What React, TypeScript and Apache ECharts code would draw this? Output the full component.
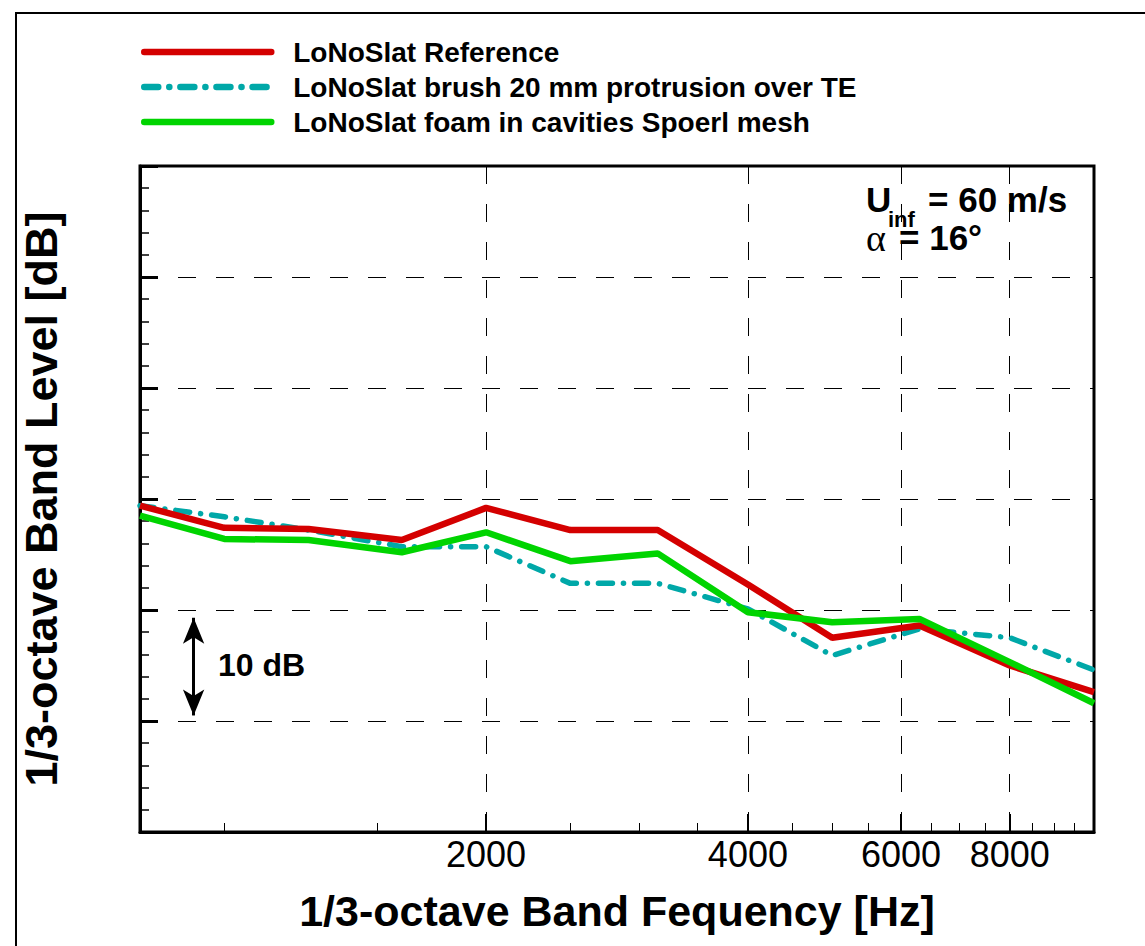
import React, { useEffect, useRef } from "react";
import * as echarts from "echarts";

const freqs = [800, 1000, 1250, 1600, 2000, 2500, 3150, 4000, 5000, 6300, 8000, 10000];
const reference = [29.4, 27.4, 27.3, 26.3, 29.2, 27.2, 27.2, 22.3, 17.5, 18.6, 15.0, 12.6];
const brush = [29.4, 28.4, 27.2, 25.7, 25.7, 22.4, 22.4, 20.1, 15.9, 18.3, 17.5, 14.6];
const foam = [28.5, 26.4, 26.3, 25.2, 27.0, 24.4, 25.1, 19.8, 18.9, 19.2, 15.3, 11.6];

const seriesNames = [
  "LoNoSlat Reference",
  "LoNoSlat brush 20 mm protrusion over TE",
  "LoNoSlat foam in cavities Spoerl mesh",
];
const majorFreqTicks = [2000, 4000, 6000, 8000];
const minorFreqTicks = [1000, 1500, 2500, 3000, 3500, 4500, 5000, 5500, 6500, 7000, 7500, 8500, 9000, 9500];
const arrowFreq = 922;
const arrowSpan = [19.3, 10.5];

export default function App() {
  const ref = useRef<HTMLDivElement>(null);
  useEffect(() => {
    const chart = echarts.init(ref.current!, null, { renderer: "svg" });
    const font = "Arial, 'Liberation Sans', Helvetica, sans-serif";
    const pairs = (ys: number[]) => freqs.map((f, i) => [f, ys[i]]);
    chart.setOption({
      animation: false,
      backgroundColor: "#ffffff",
      grid: { left: 140, right: 51, top: 166, bottom: 114, show: true, borderColor: "#000", borderWidth: 3, backgroundColor: "transparent" },
      legend: {
        orient: "vertical",
        left: 141,
        top: 38,
        padding: 0,
        itemWidth: 127,
        itemHeight: 1,
        itemGap: 7,
        data: seriesNames,
        lineStyle: { width: 6.5, cap: "round" },
        textStyle: { fontSize: 28, fontWeight: "bold", color: "#000", fontFamily: font, lineHeight: 28, padding: [0, 0, 0, 17] },
      },
      xAxis: [
        {
          type: "log",
          min: 800,
          max: 10000,
          position: "bottom",
          axisLine: { lineStyle: { color: "#000", width: 3 } },
          axisTick: { inside: true, length: 18, customValues: majorFreqTicks, lineStyle: { color: "#000", width: 2 } },
          axisLabel: { customValues: majorFreqTicks, fontSize: 36, color: "#000", fontFamily: font, margin: 4, formatter: (v: number) => String(Math.round(v)) },
          splitLine: { show: true, lineStyle: { color: "#000", width: 1, type: [18, 20] } },
          name: "1/3-octave Band Fequency [Hz]",
          nameLocation: "middle",
          nameGap: 57,
          nameTextStyle: { fontSize: 43, fontWeight: "bold", color: "#000", fontFamily: font },
        },
        {
          type: "log",
          min: 800,
          max: 10000,
          position: "bottom",
          axisLine: { show: false },
          axisTick: { inside: true, length: 9, customValues: minorFreqTicks, lineStyle: { color: "#000", width: 1 } },
          axisLabel: { show: false },
          splitLine: { show: false },
        },
      ],
      yAxis: {
        type: "value",
        min: 0,
        max: 60,
        interval: 10,
        axisLine: { show: true, lineStyle: { color: "#000", width: 3 } },
        axisTick: { show: true, inside: true, length: 18, lineStyle: { color: "#000", width: 3 } },
        minorTick: { show: true, splitNumber: 5, length: 9, lineStyle: { color: "#000", width: 1.5 } },
        axisLabel: { show: false },
        splitLine: { show: true, lineStyle: { color: "#000", width: 1, type: [18, 20] } },
        name: "1/3-octave Band Level [dB]",
        nameLocation: "middle",
        nameGap: 76,
        nameRotate: 90,
        nameTextStyle: { fontSize: 45, fontWeight: "bold", color: "#000", fontFamily: font },
      },
      series: [
        {
          name: seriesNames[0],
          type: "line",
          symbol: "none",
          data: pairs(reference),
          lineStyle: { color: "#d40000", width: 6.5 },
          itemStyle: { color: "#d40000" },
          z: 4,
          markLine: {
            silent: true,
            symbol: ["arrow", "arrow"],
            symbolSize: [16, 26],
            label: { show: false },
            lineStyle: { color: "#000", width: 3, type: "solid" },
            data: [[{ coord: [arrowFreq, arrowSpan[0]] }, { coord: [arrowFreq, arrowSpan[1]] }]],
          },
        },
        {
          name: seriesNames[1],
          type: "line",
          symbol: "none",
          data: pairs(brush),
          lineStyle: { color: "#00a8a8", width: 5.5, type: [14, 11, 0.1, 11], cap: "round" },
          itemStyle: { color: "#00a8a8" },
          z: 3,
        },
        {
          name: seriesNames[2],
          type: "line",
          symbol: "none",
          data: pairs(foam),
          lineStyle: { color: "#00d400", width: 6.5 },
          itemStyle: { color: "#00d400" },
          z: 5,
        },
      ],
      graphic: [
        { type: "rect", silent: true, shape: { x: 16, y: 13, width: 1300, height: 1100 }, style: { fill: "none", stroke: "#000", lineWidth: 2 } },
        { type: "text", x: 866, y: 199, style: { text: "U", fontSize: 35, fontWeight: "bold", fontFamily: font, fill: "#000", verticalAlign: "middle" } },
        { type: "text", x: 888, y: 219, style: { text: "inf", fontSize: 22, fontWeight: "bold", fontFamily: font, fill: "#000", verticalAlign: "middle" } },
        { type: "text", x: 928, y: 199, style: { text: "= 60 m/s", fontSize: 35, fontWeight: "bold", fontFamily: font, fill: "#000", verticalAlign: "middle" } },
        { type: "text", x: 866, y: 238, style: { text: "α", fontSize: 38, fontFamily: "'Liberation Serif', 'DejaVu Serif', serif", fill: "#000", verticalAlign: "middle" } },
        { type: "text", x: 899, y: 237, style: { text: "= 16°", fontSize: 35, fontWeight: "bold", fontFamily: font, fill: "#000", verticalAlign: "middle" } },
        { type: "text", x: 218, y: 665, style: { text: "10 dB", fontSize: 32, fontWeight: "bold", fontFamily: font, fill: "#000", verticalAlign: "middle" } },
      ],
    });
    return () => chart.dispose();
  }, []);
  return <div ref={ref} style={{ position: "absolute", left: 0, top: 0, width: 1145, height: 946 }} />;
}
